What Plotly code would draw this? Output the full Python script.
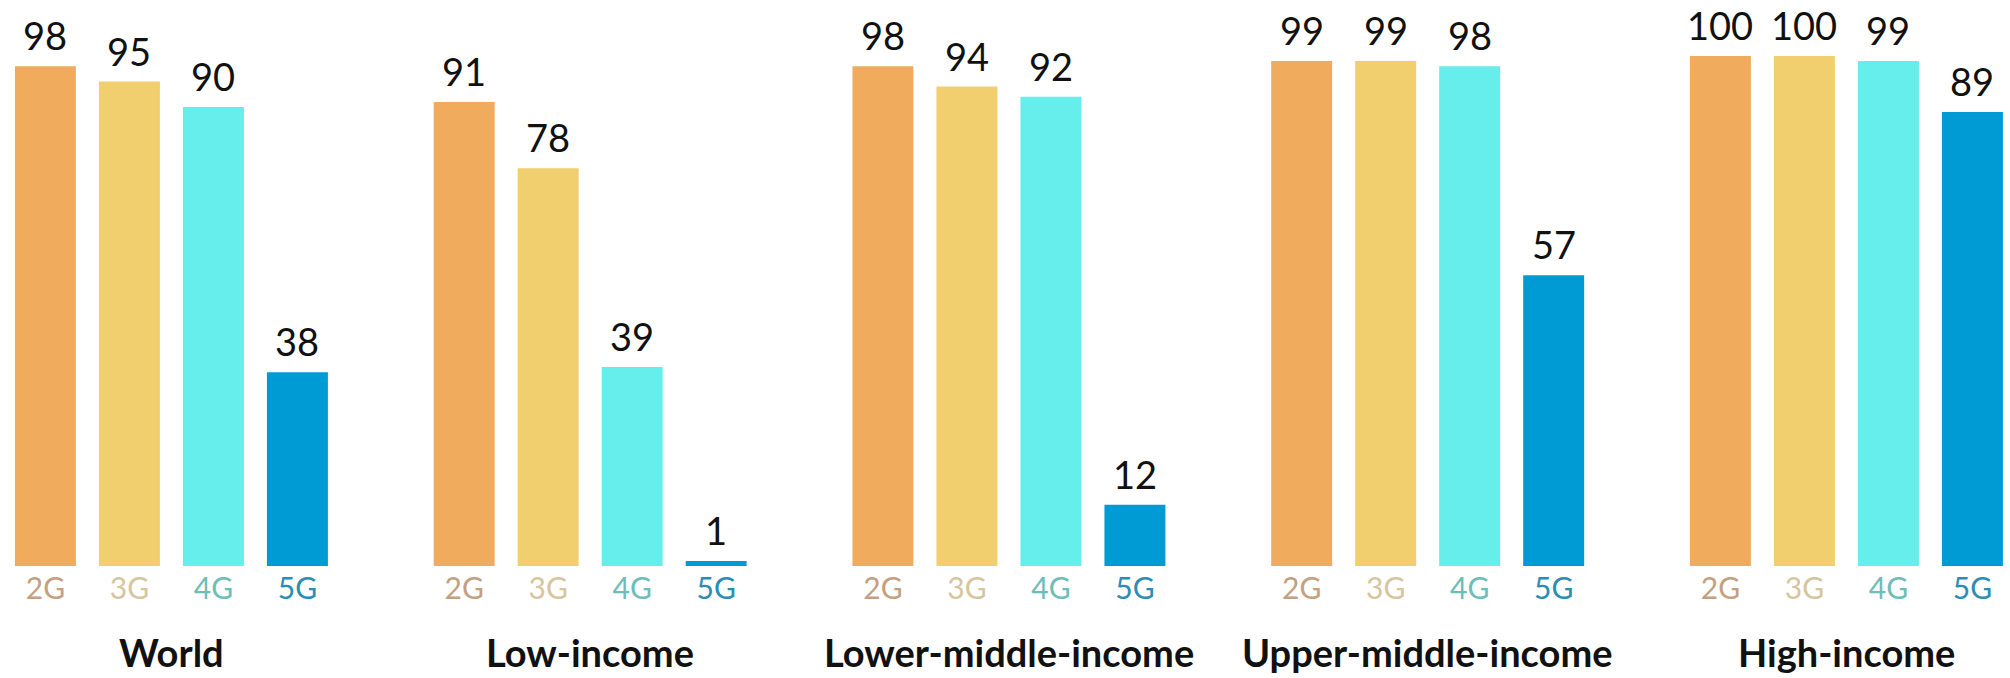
import plotly.graph_objects as go
from plotly.subplots import make_subplots

groups = ["World", "Low-income", "Lower-middle-income", "Upper-middle-income", "High-income"]
generations = ["2G", "3G", "4G", "5G"]
values = {
    "World": [98, 95, 90, 38],
    "Low-income": [91, 78, 39, 1],
    "Lower-middle-income": [98, 94, 92, 12],
    "Upper-middle-income": [99, 99, 98, 57],
    "High-income": [100, 100, 99, 89],
}
bar_colors = ["#F0AC5C", "#F1CE6E", "#66EEEC", "#009BD4"]
tick_colors = ["#C4A07F", "#D6C59E", "#6DBDB8", "#2B8DB5"]

W, H = 2010, 678
fig = make_subplots(rows=1, cols=5)

unit_px = 84.0
x_lo, x_hi = -0.38, 3.38
sub_w = (x_hi - x_lo) * unit_px
starts = [13.5 + i * 418.75 for i in range(5)]

top_m, base_px, px_per_unit = 0, 566, 5.1
y_max = (base_px - top_m) / px_per_unit

tick_text = [f"<span style='color:{c}'>{g}</span>" for g, c in zip(generations, tick_colors)]

for i, g in enumerate(groups):
    col = i + 1
    fig.add_trace(
        go.Bar(
            x=list(range(len(generations))),
            y=values[g],
            marker=dict(color=bar_colors, line=dict(width=0)),
            showlegend=False,
            hoverinfo="skip",
        ),
        row=1, col=col,
    )
    xa = "xaxis" if i == 0 else f"xaxis{col}"
    ya = "yaxis" if i == 0 else f"yaxis{col}"
    fig.layout[xa].update(
        domain=[starts[i] / W, (starts[i] + sub_w) / W],
        range=[x_lo, x_hi],
        tickmode="array",
        tickvals=list(range(len(generations))),
        ticktext=tick_text,
        tickfont=dict(family="Lato", size=30),
        showgrid=False, zeroline=False, showline=False, ticks="",
        ticklabelstandoff=2,
    )
    fig.layout[ya].update(range=[0, y_max], visible=False, showgrid=False)
    xref = "x" if i == 0 else f"x{col}"
    yref = "y" if i == 0 else f"y{col}"
    for j, v in enumerate(values[g]):
        fig.add_annotation(
            x=j, y=v, xref=xref, yref=yref,
            text=str(v), showarrow=False,
            yanchor="bottom", yshift=7, borderpad=0,
            font=dict(family="Lato", size=38, color="#111111"),
        )
    fig.add_annotation(
        x=0.5, y=-(652 - base_px) / (base_px - top_m), xref=f"{xref} domain", yref="paper",
        text=f"<b>{g}</b>", showarrow=False, yanchor="middle",
        font=dict(family="Lato", size=38, color="#111111"),
    )

fig.update_layout(
    width=W, height=H,
    margin=dict(l=0, r=0, t=top_m, b=H - base_px),
    bargap=0.274,
    plot_bgcolor="white", paper_bgcolor="white",
)

fig.write_html(
    "out.html",
    config={"displayModeBar": False},
    post_script="document.body.style.margin='0';",
)
